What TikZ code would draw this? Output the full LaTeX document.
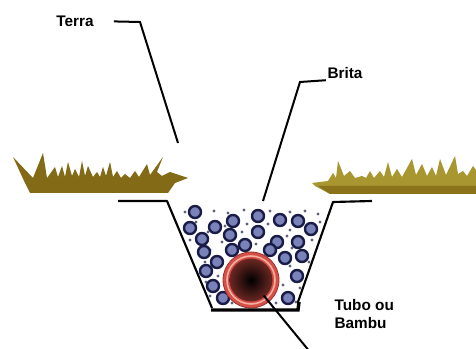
\documentclass[tikz,border=0pt]{standalone}
\usepackage{fontspec}
\setmainfont{Liberation Sans}
\usetikzlibrary{positioning}

\definecolor{grassdark}{RGB}{130,106,22}
\definecolor{grasslight}{RGB}{168,150,48}
\definecolor{stonefill}{RGB}{122,130,186}
\definecolor{stoneedge}{RGB}{26,28,72}
\definecolor{pipered}{RGB}{214,78,70}
\definecolor{pipepink}{RGB}{245,175,160}

\tikzset{
  label/.style={font=\fontsize{11.5}{13}\selectfont\bfseries, inner sep=1pt},
  leader/.style={line width=1.5pt, black},
  wall/.style={line width=1.6pt, black, line join=round},
  stone/.style={fill=stonefill, draw=stoneedge, line width=1.8pt},
  grit/.style={fill=stoneedge!70}
}

\begin{document}
\begin{tikzpicture}[x=0.75pt,y=0.75pt,yscale=-1,xscale=1]
  \useasboundingbox (0,0) rectangle (476,349);

  % grass, left bank
  \fill[grassdark] (30,193) -- (25,183) -- (13,157) -- (33,178) -- (43,153) -- (47,178) -- (55,167) -- (58,177) -- (62,166) -- (65,177) -- (68,162) -- (72,176) -- (75,169) -- (79,177) -- (82,161) -- (85,176) -- (88,166) -- (93,177) -- (97,172) -- (100,177) -- (103,167) -- (106,176) -- (110,162) -- (113,177) -- (117,171) -- (121,178) -- (125,174) -- (130,178) -- (135,171) -- (139,177) -- (147,164) -- (150,175) -- (163,157) -- (157,172) -- (162,176) -- (170,172) -- (188,178) -- (175,183) -- (168,193) -- cycle;

  % grass, right bank
  \fill[grasslight] (330,194) -- (315,186) -- (312,183) -- (328,181) -- (333,173) -- (336,178) -- (338,161) -- (344,176) -- (350,171) -- (355,178) -- (362,176) -- (366,178) -- (370,171) -- (374,178) -- (380,171) -- (384,177) -- (388,162) -- (392,177) -- (397,169) -- (402,177) -- (412,159) -- (416,175) -- (422,164) -- (427,176) -- (432,167) -- (436,176) -- (440,159) -- (446,175) -- (455,156) -- (458,174) -- (463,171) -- (467,176) -- (473,166) -- (476,170) -- (476,194) -- cycle;
  \fill[grassdark!80!grasslight] (318,186) -- (476,186) -- (476,194) -- (330,194) -- cycle;

  % small grit between the stones
  \foreach \x/\y in {185/212,200/214,214/211,228/213,244/210,270/211,290/212,305/211,318/214,
                     196/222,225/226,247/224,268/224,290/230,320/222,208/232,242/232,287/236,
                     190/240,222/242,256/244,292/248,312/240,210/250,245/254,262/262,309/262,
                     205/262,228/268,290/266,206/282,218/276,283/285,300/288,210/296,232/303,
                     276/303,296/302}
    \fill[grit] (\x,\y) circle (1.6);

  % gravel stones
  \foreach \x/\y in {190/228,202/239,215/227,233/221,230/235,258/216,258/232,280/220,298/221,
                     311/229,277/242,298/242,302/256,285/258,270/250,204/252,217/262,232/250,
                     297/276,213/286,223/298,288/298,206/271,245/245,195/212}
    \draw[stone] (\x,\y) circle (6);

  % pipe
  \node[circle, minimum size=42pt, inner sep=0pt, fill=pipered, draw=pipered!70!black, line width=0.6pt] (pipe) at (251,280) {};
  \draw[pipepink, line width=1.2pt] (pipe.center) circle (24);
  \shade[inner color=black, outer color=pipered!50!black] (pipe.center) circle (21.5);

  % trench outline
  \draw[wall] (118,201) -- (167,201) -- (212,308);
  \draw[wall] (298,302) -- (333,202) -- (372,201);
  \draw[line width=2.6pt] (211,310) -- (298,310) -- (299,302);

  % labels
  \node[label] (terra) at (75,21) {Terra};
  \node[label] (brita) at (345,73) {Brita};
  \node[label, align=left, anchor=north west] (tubo) at (333,298) {Tubo ou\\Bambu};

  % leaders
  \coordinate (terrabend) at (140,22);
  \coordinate (terratip) at (178,143);
  \coordinate (britabend) at (300,82);
  \coordinate (britatip) at (263,201);
  \coordinate (tubotail) at (310,352);
  \draw[leader, shorten <=14pt] (terra.east) -- (terrabend) -- (terratip);
  \draw[leader] (brita.south west) -- (britabend) -- (britatip);
  \draw[leader, shorten >=15pt] (tubotail) -- (pipe.center);

\end{tikzpicture}
\end{document}
